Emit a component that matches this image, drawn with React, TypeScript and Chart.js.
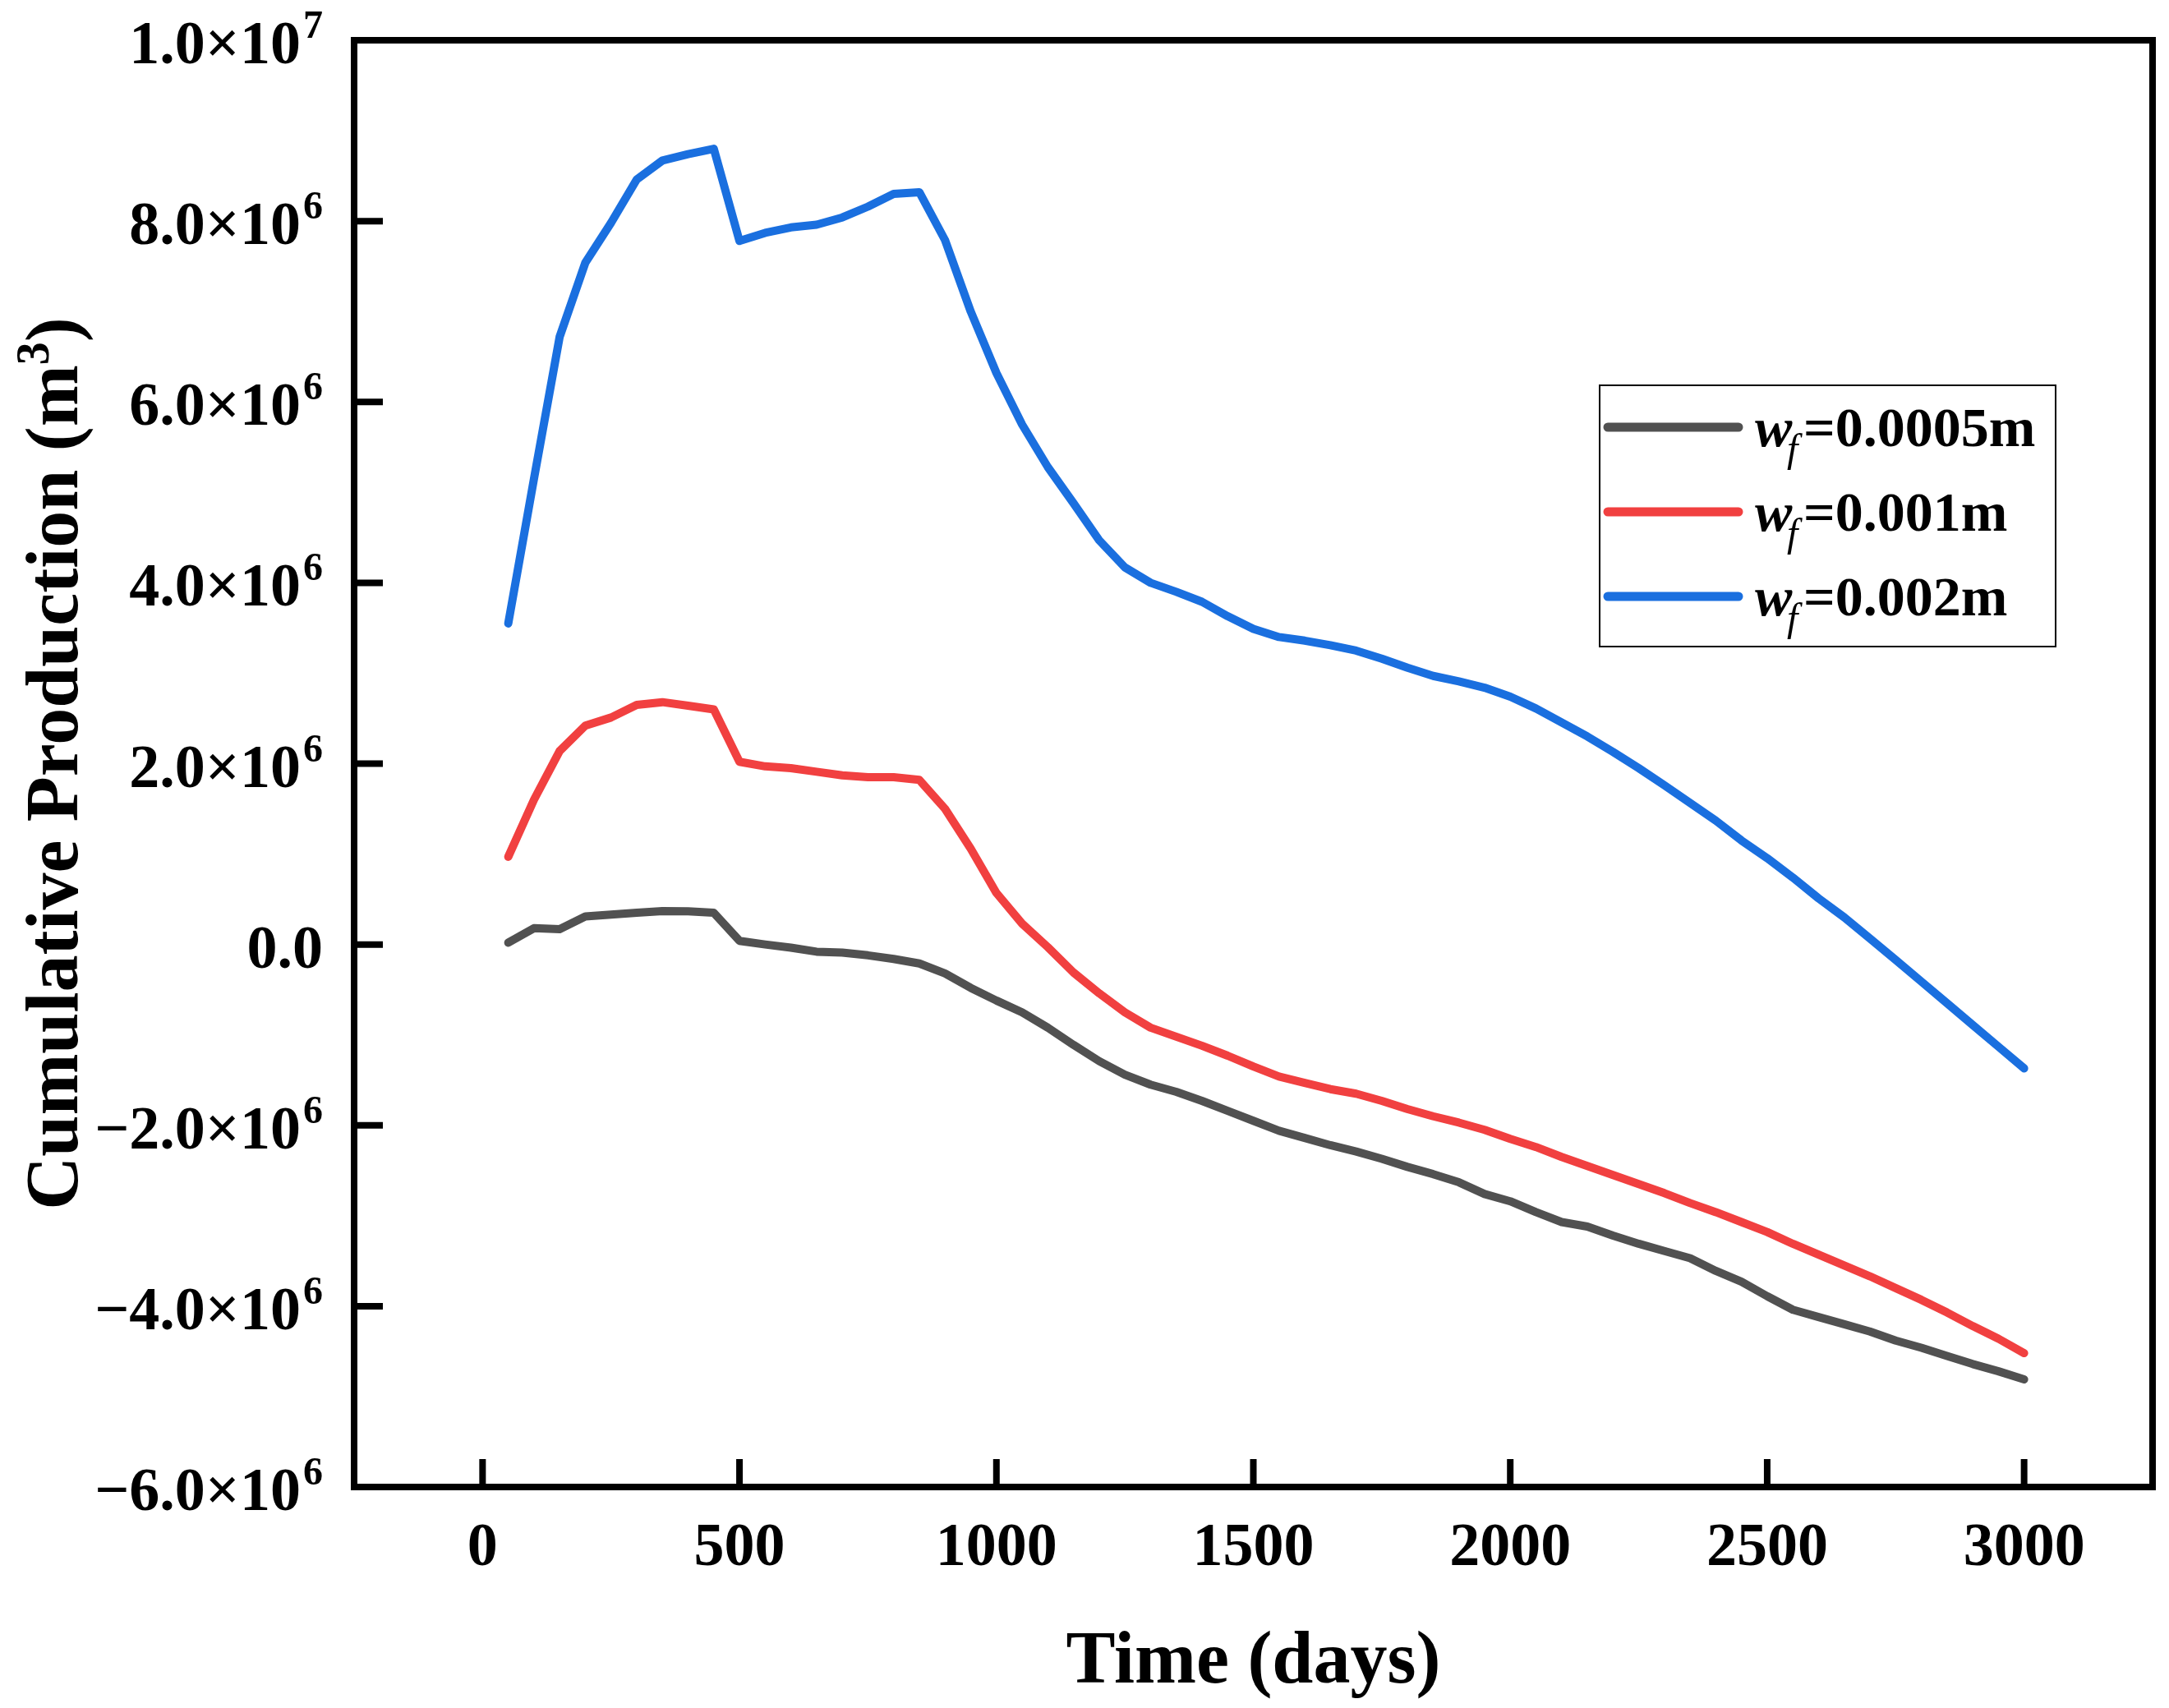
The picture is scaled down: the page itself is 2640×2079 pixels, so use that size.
import { useEffect, useRef } from "react"
import { Chart, registerables } from "chart.js"

Chart.register(...registerables)

// time axis (days)
const days = [
  50, 100, 150, 200, 250, 300, 350, 400, 450, 500,
  550, 600, 650, 700, 750, 800, 850, 900, 950, 1000,
  1050, 1100, 1150, 1200, 1250, 1300, 1350, 1400, 1450, 1500,
  1550, 1600, 1650, 1700, 1750, 1800, 1850, 1900, 1950, 2000,
  2050, 2100, 2150, 2200, 2250, 2300, 2350, 2400, 2450, 2500,
  2550, 2600, 2650, 2700, 2750, 2800, 2850, 2900, 2950, 3000,
]

// cumulative production, in units of 10^6 m3
const wf0005 = [
  0.02, 0.18, 0.17, 0.31, 0.33, 0.35, 0.37, 0.366, 0.35, 0.04,
  0.0, -0.035, -0.08, -0.09, -0.12, -0.16, -0.21, -0.32, -0.48, -0.62,
  -0.75, -0.92, -1.11, -1.29, -1.44, -1.55, -1.63, -1.73, -1.84, -1.95,
  -2.06, -2.14, -2.22, -2.29, -2.37, -2.46, -2.54, -2.63, -2.76, -2.84,
  -2.96, -3.07, -3.12, -3.22, -3.31, -3.39, -3.47, -3.61, -3.73, -3.89,
  -4.04, -4.12, -4.2, -4.28, -4.38, -4.46, -4.55, -4.64, -4.72, -4.81,
]
const wf001 = [
  0.97, 1.6, 2.14, 2.42, 2.51, 2.65, 2.68, 2.64, 2.6, 2.02,
  1.97, 1.95, 1.91, 1.87, 1.85, 1.85, 1.82, 1.5, 1.06, 0.57,
  0.23, -0.03, -0.31, -0.54, -0.75, -0.92, -1.02, -1.12, -1.23, -1.35,
  -1.46, -1.53, -1.6, -1.65, -1.73, -1.82, -1.9, -1.97, -2.05, -2.15,
  -2.24, -2.35, -2.45, -2.55, -2.65, -2.75, -2.86, -2.96, -3.07, -3.18,
  -3.31, -3.43, -3.55, -3.67, -3.8, -3.93, -4.07, -4.22, -4.36, -4.52,
]
const wf002 = [
  3.55, 5.15, 6.72, 7.54, 7.98, 8.46, 8.67, 8.74, 8.8, 7.78,
  7.87, 7.93, 7.96, 8.04, 8.16, 8.3, 8.32, 7.79, 7.0, 6.32,
  5.75, 5.28, 4.88, 4.47, 4.17, 4.0, 3.9, 3.79, 3.63, 3.49,
  3.4, 3.36, 3.31, 3.25, 3.16, 3.06, 2.97, 2.91, 2.84, 2.74,
  2.61, 2.455, 2.3, 2.13, 1.95, 1.76, 1.565, 1.37, 1.15, 0.955,
  0.74, 0.51, 0.3, 0.065, -0.17, -0.41, -0.65, -0.89, -1.13, -1.37,
]

const fractureWidths = ["0.0005", "0.001", "0.002"]
const seriesColors = ["#515151", "#F14040", "#1A6FDF"]

const xTicks = [0, 500, 1000, 1500, 2000, 2500, 3000]
const yTicks = [-6e6, -4e6, -2e6, 0, 2e6, 4e6, 6e6, 8e6, 1e7]

const FONT = '"Liberation Serif", "Times New Roman", serif'

// frame, inward ticks, labels with superscripts and the legend
const decorPlugin = {
  id: "decor",
  afterDraw(chart: any) {
    const { ctx, chartArea: a, scales } = chart
    const xs = scales.x
    const ys = scales.y
    ctx.save()

    // frame
    ctx.strokeStyle = "#000"
    ctx.lineWidth = 8
    ctx.lineCap = "butt"
    ctx.strokeRect(a.left, a.top, a.right - a.left, a.bottom - a.top)

    // ticks pointing into the plot
    ctx.beginPath()
    for (const v of xTicks) {
      const px = xs.getPixelForValue(v)
      ctx.moveTo(px, a.bottom)
      ctx.lineTo(px, a.bottom - 34)
    }
    for (const v of yTicks) {
      const py = ys.getPixelForValue(v)
      ctx.moveTo(a.left, py)
      ctx.lineTo(a.left + 35, py)
    }
    ctx.stroke()

    ctx.fillStyle = "#000"
    ctx.textBaseline = "alphabetic"

    // x tick labels
    ctx.font = `bold 74px ${FONT}`
    ctx.textAlign = "center"
    for (const v of xTicks) {
      ctx.fillText(String(v), xs.getPixelForValue(v), a.bottom + 95)
    }

    // y tick labels, a.b×10^n
    const right = a.left - 38
    for (const v of yTicks) {
      const py = ys.getPixelForValue(v)
      if (v === 0) {
        ctx.font = `bold 74px ${FONT}`
        ctx.textAlign = "right"
        ctx.fillText("0.0", right, py + 28)
        continue
      }
      const exp = Math.floor(Math.log10(Math.abs(v)) + 1e-9)
      const mant = (v / 10 ** exp).toFixed(1).replace("-", "\u2212")
      ctx.font = `bold 48px ${FONT}`
      const supW = ctx.measureText(String(exp)).width
      ctx.textAlign = "left"
      ctx.fillText(String(exp), right - supW, py - 3)
      ctx.font = `bold 74px ${FONT}`
      ctx.textAlign = "right"
      ctx.fillText(`${mant}\u00d710`, right - supW - 3, py + 28)
    }

    // x title
    ctx.font = `bold 90px ${FONT}`
    ctx.textAlign = "center"
    ctx.fillText("Time (days)", (a.left + a.right) / 2, a.bottom + 238)

    // y title with superscript
    ctx.save()
    ctx.translate(a.left - 337, (a.top + a.bottom) / 2)
    ctx.rotate(-Math.PI / 2)
    ctx.textAlign = "left"
    const main = "Cumulative Production (m"
    ctx.font = `bold 90px ${FONT}`
    const w1 = ctx.measureText(main).width
    const w3 = ctx.measureText(")").width
    ctx.font = `bold 56px ${FONT}`
    const w2 = ctx.measureText("3").width
    const x0 = -(w1 + w2 + w3) / 2
    ctx.font = `bold 90px ${FONT}`
    ctx.fillText(main, x0, 0)
    ctx.fillText(")", x0 + w1 + w2, 0)
    ctx.font = `bold 56px ${FONT}`
    ctx.fillText("3", x0 + w1, -35)
    ctx.restore()

    // legend
    const bx = a.right - 673
    const by = a.top + 420
    ctx.fillStyle = "#fff"
    ctx.fillRect(bx, by, 555, 318)
    ctx.strokeStyle = "#000"
    ctx.lineWidth = 2
    ctx.strokeRect(bx, by, 555, 318)
    chart.data.datasets.forEach((ds: any, i: number) => {
      const cy = by + 51 + i * 103
      ctx.strokeStyle = ds.borderColor
      ctx.lineWidth = 11
      ctx.lineCap = "round"
      ctx.beginPath()
      ctx.moveTo(bx + 10, cy)
      ctx.lineTo(bx + 169, cy)
      ctx.stroke()
      ctx.fillStyle = "#000"
      ctx.textAlign = "left"
      ctx.font = `italic bold 68px ${FONT}`
      ctx.fillText("w", bx + 189, cy + 23)
      ctx.font = `italic 48px ${FONT}`
      ctx.fillText("f", bx + 228, cy + 42)
      ctx.font = `bold 68px ${FONT}`
      ctx.fillText(`=${fractureWidths[i]}m`, bx + 248, cy + 23)
    })

    ctx.restore()
  },
}

export default function App() {
  const chartRef = useRef<HTMLCanvasElement>(null)
  const chartInstance = useRef<Chart | null>(null)

  useEffect(() => {
    document.body.style.margin = "0"
    if (!chartRef.current) return

    if (chartInstance.current) {
      chartInstance.current.destroy()
    }

    const ctx = chartRef.current.getContext("2d")
    if (!ctx) return

    const series = [wf0005, wf001, wf002]

    chartInstance.current = new Chart(ctx, {
      type: "line",
      data: {
        datasets: series.map((vals, k) => ({
          label: `wf=${fractureWidths[k]}m`,
          data: days.map((d, i) => ({ x: d, y: vals[i] * 1e6 })),
          borderColor: seriesColors[k],
          backgroundColor: seriesColors[k],
          borderWidth: 10,
          pointRadius: 0,
          tension: 0,
          fill: false,
          borderJoinStyle: "round" as const,
          borderCapStyle: "round" as const,
        })),
      },
      options: {
        responsive: false,
        maintainAspectRatio: false,
        devicePixelRatio: 1,
        animation: false,
        layout: {
          padding: { left: 431, right: 20, top: 49, bottom: 269 },
        },
        scales: {
          x: { type: "linear", min: -250, max: 3250, display: false },
          y: { type: "linear", min: -6e6, max: 1e7, display: false },
        },
        plugins: {
          legend: { display: false },
          tooltip: { enabled: false },
        },
      },
      plugins: [decorPlugin],
    })

    return () => {
      if (chartInstance.current) {
        chartInstance.current.destroy()
        chartInstance.current = null
      }
    }
  }, [])

  return (
    <div style={{ width: 2640, height: 2079, background: "#fff" }}>
      <canvas ref={chartRef} width={2640} height={2079}></canvas>
    </div>
  )
}
